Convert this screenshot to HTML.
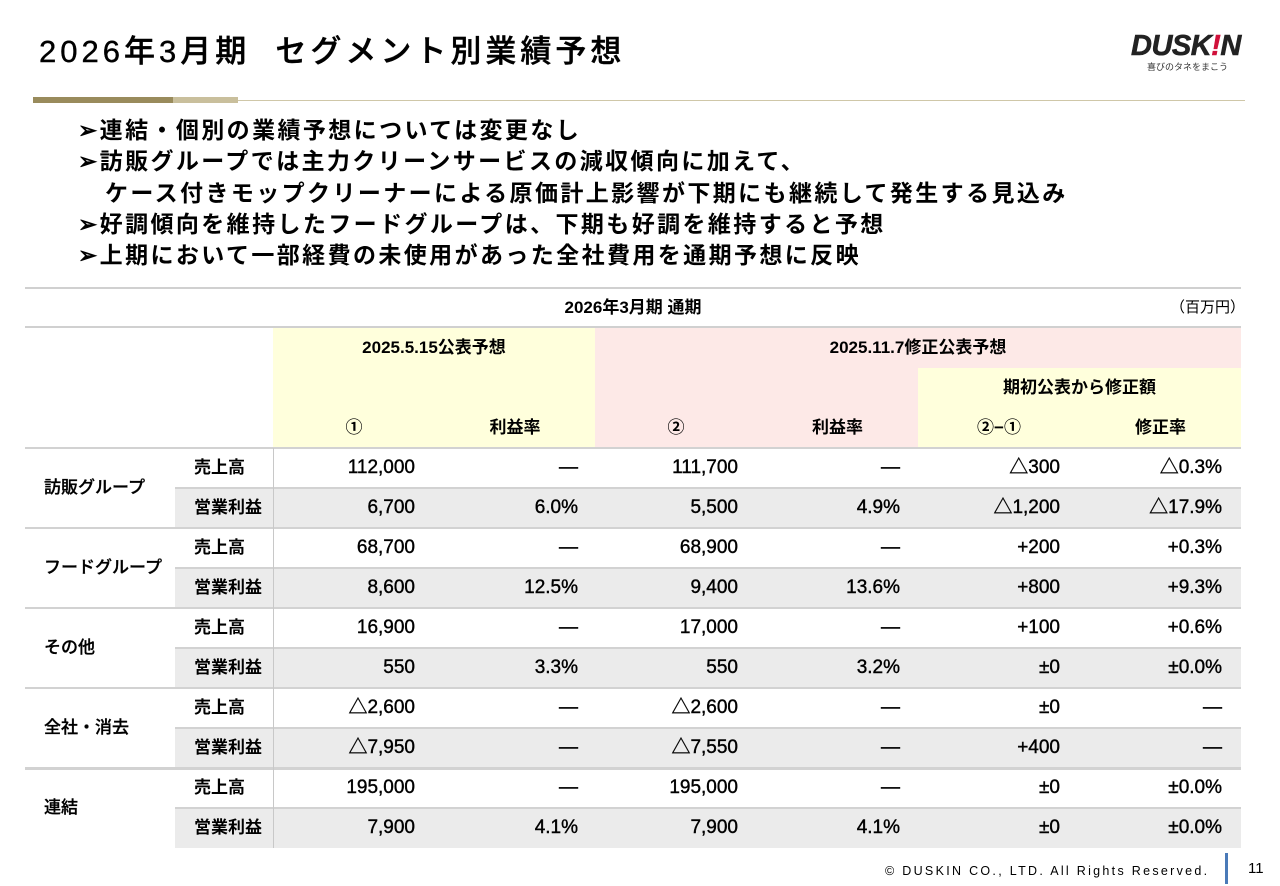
<!DOCTYPE html>
<html><head><meta charset="utf-8">
<style>
*{margin:0;padding:0;box-sizing:border-box}
body{width:1280px;height:886px;background:#fff;position:relative;overflow:hidden;font-family:"Liberation Sans","Noto Sans CJK JP",sans-serif;color:#000}
.abs{position:absolute}
.t{position:absolute;white-space:nowrap;font-size:18px;line-height:20px}
.r{text-align:right}
.c{text-align:center}
</style></head><body>
<div class="abs" style="left:39px;top:32px;font-size:31px;line-height:40px;letter-spacing:4px;font-weight:500;-webkit-text-stroke:0.4px #000">2026年3月期&nbsp;&nbsp;セグメント別業績予想</div>
<div class="abs" style="left:1131px;top:30px;width:120px;height:45px">
  <div style="font-size:29px;font-weight:bold;font-style:italic;line-height:32px;letter-spacing:-0.5px;color:#222;-webkit-text-stroke:0.6px #222">DUSK<span style="color:#d0103a;-webkit-text-stroke:0.6px #d0103a">!</span>N</div>
  <div style="font-size:9px;line-height:10px;margin-left:16px;color:#333">喜びのタネをまこう</div>
</div>
<div class="abs" style="left:33px;top:99.5px;width:1212px;height:1.5px;background:#cfc7a8"></div>
<div class="abs" style="left:33px;top:97px;width:140px;height:6px;background:#998b5c"></div>
<div class="abs" style="left:173px;top:97px;width:65px;height:6px;background:#c9bf9c"></div>

<div class="abs" style="left:78px;top:115px;font-size:23px;line-height:31.3px;font-weight:bold;letter-spacing:2.4px">
<div>➢連結・個別の業績予想については変更なし</div>
<div>➢訪販グループでは主力クリーンサービスの減収傾向に加えて、</div>
<div style="padding-left:27px">ケース付きモップクリーナーによる原価計上影響が下期にも継続して発生する見込み</div>
<div>➢好調傾向を維持したフードグループは、下期も好調を維持すると予想</div>
<div>➢上期において一部経費の未使用があった全社費用を通期予想に反映</div>
</div>

<div id="tbl" class="abs" style="left:0;top:0;width:1280px;height:886px">
  <div class="abs" style="left:25px;top:287px;width:1216px;height:1.5px;background:#d0d0d0"></div>
  <div class="t c" style="left:25px;top:298px;width:1216px;font-size:17px;font-weight:bold">2026年3月期 通期</div>
  <div class="t" style="left:1170px;top:298px;font-size:15px">（百万円）</div>
  <div class="abs" style="left:25px;top:326px;width:1216px;height:2px;background:#d0d0d0"></div>
  <div class="abs" style="left:273px;top:328px;width:322px;height:120px;background:#ffffdc"></div>
  <div class="abs" style="left:595px;top:328px;width:646px;height:120px;background:#fde9e7"></div>
  <div class="abs" style="left:918px;top:368px;width:323px;height:80px;background:#ffffdc"></div>
  <div class="t c" style="left:273px;top:338px;width:322px;font-weight:bold;font-size:17px">2025.5.15公表予想</div>
  <div class="t c" style="left:595px;top:338px;width:646px;font-weight:bold;font-size:17px">2025.11.7修正公表予想</div>
  <div class="t c" style="left:918px;top:378px;width:323px;font-weight:bold;font-size:17px">期初公表から修正額</div>
</div>

<div class="t" style="left:885px;top:861px;font-size:12.5px;letter-spacing:2.3px">© DUSKIN CO., LTD. All Rights Reserved.</div>
<div class="abs" style="left:1225px;top:853px;width:3px;height:31px;background:#4a7ab8"></div>
<div class="t" style="left:1248px;top:859px;font-size:15px">11</div>

<script>
const colHeads=["①","利益率","②","利益率","②−①","修正率"];
const groups=["訪販グループ","フードグループ","その他","全社・消去","連結"];
const items=["売上高","営業利益"];
const val1=["112,000","6,700","68,700","8,600","16,900","550","△2,600","△7,950","195,000","7,900"];
const rate1=["—","6.0%","—","12.5%","—","3.3%","—","—","—","4.1%"];
const val2=["111,700","5,500","68,900","9,400","17,000","550","△2,600","△7,550","195,000","7,900"];
const rate2=["—","4.9%","—","13.6%","—","3.2%","—","—","—","4.1%"];
const diff=["△300","△1,200","+200","+800","+100","±0","±0","+400","±0","±0"];
const diffRate=["△0.3%","△17.9%","+0.3%","+9.3%","+0.6%","±0.0%","—","—","±0.0%","±0.0%"];

const colL=[273,435,595,757,918,1080];
const colR=[415,578,738,900,1060,1222];
const tbl=document.getElementById('tbl');
function mk(cls,style,text){const d=document.createElement('div');d.className=cls;d.setAttribute('style',style);if(text!==undefined)d.textContent=text;tbl.appendChild(d);return d;}
colHeads.forEach((h,i)=>{
  const w=(i<5?colL[i+1]:1241)-colL[i];
  const d=mk('t c','left:'+colL[i]+'px;top:418px;width:'+w+'px;font-weight:bold;font-size:17px',h);
  
  
});
const cols=[val1,rate1,val2,rate2,diff,diffRate];
for(let r=0;r<10;r++){
  const top=448+r*40;
  if(r%2===1){
    const bg=mk('abs','left:175px;top:'+top+'px;width:1066px;height:40px;background:#ebebeb');
    
    
  }
  const ln=mk('abs','left:'+(r%2===0?25:175)+'px;top:'+(top-1)+'px;width:'+(r%2===0?1216:1066)+'px;height:'+(r===8?3:1.5)+'px;background:#d2d2d2');
  
  
  if(r%2===0){
    const g=mk('t','left:44px;top:'+(top+30)+'px;font-size:17px;font-weight:500;-webkit-text-stroke:0.3px #000',groups[r/2]);
    
    
  }
  const it=mk('t','left:194px;top:'+(top+10)+'px;font-size:17px;font-weight:bold',items[r%2]);
  
  
  cols.forEach((arr,c)=>{
    const cell=mk('t r','left:'+(colR[c]-150)+'px;top:'+(top+10)+'px;width:150px;font-size:19px;-webkit-text-stroke:0.4px #000',arr[r]);
    
    
  });
}
const v=mk('abs','left:273px;top:448px;width:1px;height:400px;background:#c8c8c8');


</script>
</body></html>
